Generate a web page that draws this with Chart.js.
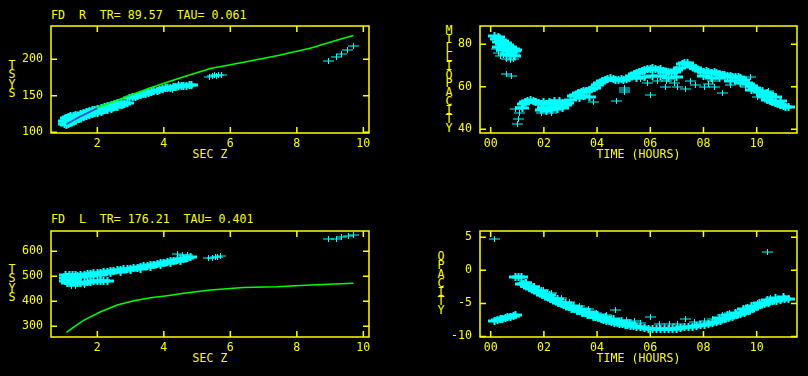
<!DOCTYPE html>
<html>
<head>
<meta charset="utf-8">
<script src="https://cdn.jsdelivr.net/npm/chart.js@4.4.1/dist/chart.umd.min.js"></script>
<style>
  body { margin: 0; background: #000; }
  #wrap { position: relative; width: 808px; height: 376px; background: #000; overflow: hidden; }
  canvas { position: absolute; }
  .lbl { position: absolute; color: #ffff00; font: 11.6px "DejaVu Sans Mono", monospace; line-height: 14px; white-space: pre; }
  .vlab { position: absolute; color: #ffff00; font: 11.6px "DejaVu Sans Mono", monospace; width: 8px; text-align: center; word-break: break-all; }
</style>
</head>
<body>
<div id="wrap">
  <div class="lbl" style="left:51px;top:8px">FD  R  TR= 89.57  TAU= 0.061</div>
  <div class="lbl" style="left:51px;top:212px">FD  L  TR= 176.21  TAU= 0.401</div>
  <div class="vlab" style="left:8px;top:61px;line-height:9.3px">TSYS</div>
  <div class="vlab" style="left:445px;top:26px;line-height:8.9px">MILLIOPACITY</div>
  <div class="vlab" style="left:8px;top:265px;line-height:9.4px">TSYS</div>
  <div class="vlab" style="left:437px;top:252px;line-height:9px">OPACITY</div>
  <canvas id="c1" width="400" height="188" style="left:0;top:0"></canvas>
  <canvas id="c2" width="408" height="188" style="left:400px;top:0"></canvas>
  <canvas id="c3" width="400" height="188" style="left:0;top:188px"></canvas>
  <canvas id="c4" width="408" height="188" style="left:400px;top:188px"></canvas>
</div>
<script>
// ---- data ----
// FD R : TSYS vs SEC Z
const rDenseX = [1.02,1.02,1.08,1.08,1.08,1.14,1.14,1.14,1.20,1.20,1.20,1.27,1.27,1.27,1.34,1.34,1.34,1.42,1.42,1.50,1.50,1.58,1.58,1.66,1.66,1.75,1.75,1.84,1.84,1.93,1.93,2.02,2.02,2.12,2.12,2.22,2.22,2.32,2.32,2.42,2.42,2.52,2.52,2.62,2.62,2.72,2.72,2.82,2.90,
  2.98,3.06,3.14,3.22,3.30,3.38,3.46,3.54,3.62,3.70,
  3.80,3.88,3.96,4.04,4.12,4.20,4.28,4.36,4.44,4.52,4.60,4.68,4.76,4.84];
const rDenseY = [111,116,110,115,120,111,116,121,113,118,122,115,119,123,116,121,124,118,123,120,125,121,126,122,128,124,129,125,130,126,131,127,132,128,133,130,134,131,136,132,137,134,139,135,140,137,141,139,140,
  147,148,149,150,151,152,153,154,155,156,
  157,158,159,160,161,161,162,162,163,163,164,164,165,165];
const rSparseX = [4.25,4.45,5.38,5.45,5.52,5.58,5.65,5.72,8.95,9.19,9.34,9.52,9.69];
const rSparseY = [158.5,166,176,177.5,178,177,178.5,178,197.5,202.5,207,212.5,218];
const rFitX = [1.07,1.3,1.6,2.0,2.6,3.1,3.6,4.1,4.6,5.4,6.4,7.4,8.4,9.3,9.7];
const rFitY = [111,117,124,133.6,144,152.5,161,168.5,176,187.5,196,205,215,227.5,232.5];
const rLinX = [1.07,1.5,2.0];
const rLinY = [111,122,133];

// milliopacity vs time
const mDenseX = [0.15,0.20,0.28,0.30,0.35,0.40,0.45,0.50,0.55,0.60,0.65,0.70,0.75,0.80,0.85,0.90,0.95,0.30,0.45,0.60,0.75,0.90,
  1.20,1.25,1.30,1.40,1.50,1.60,1.70,1.80,1.90,1.90,2.00,2.00,2.10,2.10,2.20,2.20,2.30,2.30,2.40,2.40,2.50,2.50,2.60,2.60,2.70,2.70,2.80,2.90,
  3.00,3.10,3.20,3.30,3.35,3.40,3.50,3.50,3.60,3.70,3.70,3.80,3.90,4.00,4.10,4.20,4.30,4.40,4.50,4.60,4.70,4.80,4.90,5.00,5.10,5.20,5.30,
  5.40,5.50,5.60,5.70,5.80,5.90,6.00,6.10,6.20,6.30,6.40,6.50,6.60,6.70,6.80,6.90,7.00,7.10,7.20,7.30,7.40,7.50,7.60,7.70,7.80,7.90,
  8.00,8.10,8.20,8.30,8.40,8.50,8.60,8.70,8.80,8.90,9.00,9.10,9.20,9.30,9.40,9.50,9.60,9.70,9.80,9.90,
  10.00,10.10,10.20,10.30,10.40,10.50,10.60,10.70,10.80,10.90,11.00,11.10,11.20,
  5.50,5.80,6.10,6.40,6.70,7.00,8.00,8.30,8.60,9.00,9.40,9.80,10.20,10.40,10.50,10.70,10.90];
const mDenseY = [84,82.5,83.5,81,82,80,81.5,79,80.5,78,79.5,77,78.5,76.5,78,77,77.5,78.5,77.5,75.5,75,74.5,
  50,52,53,53.5,54,53.5,53,52.5,52,49,50,53,48.5,52,50,53,49,52.5,50.5,53.5,49.5,52,51,53.5,50,52.5,51.5,52.5,
  54,55.5,56,57,54.5,57.5,58,55.5,58,58.5,55,59,59.5,61,62,62.5,63,63.5,64,63.5,63,63,63.5,63,63.5,64,65,
  66,66.5,67,67.5,68,68.5,68.5,69,68.5,68,68.5,67.5,67,67,66.5,67,68,69,70.5,71,71,70,69.5,69,68,67.5,
  67,67.5,67,66.5,67,66.5,66,65.5,65.5,65,65,64.5,64.5,64.5,64,63,62,61.5,60.5,59.5,
  58.5,57.5,56,55,54,53.5,53,52.5,52,51.5,51,50.5,50.5,
  64,64.5,65,65,64,64.5,65,64,64,62.5,62,58.5,58,57,56,55,53.5];
const mSparseX = [0.20,0.30,0.35,0.50,0.60,0.75,0.85,0.90,0.60,0.80,1.00,1.05,1.10,0.95,1.15,1.90,2.30,3.85,4.72,5.04,5.04,5.04,
  5.65,5.90,6.02,6.27,6.59,7.02,7.34,7.71,8.03,8.34,8.40,8.71,9.02,9.59,9.77,10.02,10.46,6.60,6.90,7.50,8.20];
const mSparseY = [78,76,74.5,75,73,72.5,73,75.5,66,65,42.5,45,47.5,49.5,50.5,47.5,47.5,53,53.5,58.5,59.5,57.5,
  63.5,62,56,62.7,60.1,60.1,58.9,60.8,59.7,62.8,59.7,57,60.8,59.7,64.4,55,58.1,62.5,62,62.5,61.5];

// FD L : TSYS vs SEC Z
const lDenseX = [1.05,1.05,1.05,1.10,1.10,1.10,1.15,1.15,1.15,1.20,1.20,1.20,1.25,1.25,1.25,1.30,1.30,1.35,1.35,1.40,
  1.50,1.60,1.70,1.80,1.90,2.00,2.10,2.20,2.30,2.40,2.50,2.60,2.70,2.80,2.90,3.00,3.10,3.20,3.30,3.40,3.50,3.60,3.70,3.80,3.90,4.00,4.10,4.20,4.30,4.40,4.50,4.60,4.70,4.80,
  1.30,1.40,1.50,1.60,1.70,1.80,1.90,2.00,2.10,2.20,2.30,
  1.50,1.80,2.10,2.40,2.70,3.00,3.30,3.60,3.90,4.20,4.50];
const lDenseY = [505,493,481,499,487,475,505,493,481,499,487,473,505,493,479,499,487,504,493,502,
  505,507,509,510,512,513,515,517,519,521,523,525,527,528,529,531,532,534,537,540,543,545,547,550,553,555,557,560,563,566,568,570,574,578,
  476,475,474,475,476,478,480,481,482,482,481,
  498,502,506,513,518,524,530,538,546,554,562];
const lSparseX = [1.21,1.35,1.60,4.40,4.55,4.70,5.35,5.45,5.55,5.62,5.70,8.95,9.20,9.34,9.54,9.69];
const lSparseY = [461,463,465,588,585,586,574,574,576,578,581,648,649,658,663,665];
const lFitX = [1.07,1.3,1.6,2.1,2.6,3.1,3.6,4.1,4.6,5.4,6.4,7.4,8.4,9.7];
const lFitY = [276,298,325,358,385,402,414,422,432,445,455,458.5,465,472];

// opacity vs time
const oDenseX = [0.15,0.25,0.35,0.45,0.55,0.65,0.75,0.85,0.95,0.95,1.05,1.15,
  1.15,1.25,1.35,1.45,1.55,1.65,1.75,1.85,1.95,2.05,2.15,2.25,2.35,2.45,2.55,2.65,2.75,2.85,2.95,3.05,3.15,3.25,3.35,3.45,3.55,3.65,3.75,3.85,3.95,
  4.05,4.15,4.25,4.35,4.45,4.55,4.65,4.75,4.85,4.95,5.05,5.15,5.25,5.35,5.50,5.65,5.80,5.95,6.10,6.25,6.40,6.55,6.70,6.85,7.00,7.15,7.30,7.45,7.60,7.75,7.90,
  8.05,8.20,8.35,8.50,8.65,8.80,8.95,9.10,9.25,9.40,9.55,9.70,9.85,10.00,10.15,10.30,10.45,10.60,10.75,10.90,11.05,11.20,
  1.3,1.6,1.9,2.2,2.5,2.8,3.1,3.4,3.7,4.0,4.3,4.6,4.9,5.2,8.6,8.9,9.2,9.5,9.8,10.1,10.4,10.7,11.0];
const oDenseY = [-7.6,-7.5,-7.4,-7.3,-7.2,-7.1,-7.0,-6.9,-6.8,-1.0,-1.0,-1.05,
  -2.0,-2.1,-2.4,-2.6,-2.8,-3.0,-3.2,-3.4,-3.7,-3.9,-4.1,-4.3,-4.5,-4.7,-4.9,-5.1,-5.3,-5.4,-5.6,-5.8,-5.9,-6.1,-6.2,-6.4,-6.5,-6.7,-6.8,-7.0,-7.1,
  -7.2,-7.3,-7.5,-7.6,-7.7,-7.8,-7.9,-8.0,-8.1,-8.1,-8.2,-8.3,-8.4,-8.4,-8.5,-8.6,-8.7,-8.8,-8.8,-8.9,-8.9,-8.9,-8.9,-8.8,-8.8,-8.7,-8.6,-8.6,-8.5,-8.4,-8.3,
  -8.2,-8.1,-7.9,-7.8,-7.6,-7.4,-7.2,-7.0,-6.8,-6.6,-6.4,-6.1,-5.9,-5.6,-5.3,-5.1,-4.9,-4.7,-4.6,-4.5,-4.4,-4.3,
  -1.9,-2.5,-3.1,-3.7,-4.3,-4.9,-5.4,-5.9,-6.3,-6.7,-7.1,-7.4,-7.7,-7.9,-7.2,-6.8,-6.4,-5.9,-5.4,-4.9,-4.5,-4.2,-4.0];
const oSparseX = [0.16,10.42,1.35,1.66,1.97,2.30,2.66,2.97,3.35,3.66,3.97,4.35,4.70,5.10,5.40,5.65,6.02,6.34,6.71,7.02,7.34,7.65,8.03,8.34,8.71,8.96,9.34,9.65,10.02,10.52];
const oSparseY = [4.74,2.82,-1.7,-2.4,-3.0,-3.5,-4.2,-4.85,-5.4,-5.9,-6.4,-6.8,-6.0,-7.5,-7.7,-7.9,-7.12,-8.1,-8.15,-8.1,-7.4,-7.8,-7.6,-7.3,-6.77,-6.5,-6.1,-5.6,-5.0,-4.25];

const secTicks = [2, 4, 6, 8, 10];
const hourTicks = [0, 2, 4, 6, 8, 10];
const rTicks = [100, 150, 200];
const mTicks = [40, 60, 80];
const lTicks = [300, 400, 500, 600];
const oTicks = [-10, -5, 0, 5];

// ---- drawing ----
const YEL = '#ffff00';
const CYAN = '#00ffff';
const FONT = { family: 'DejaVu Sans Mono', size: 11.6 };

// error-bar cross drawn once, used as point style
function makeCross(w, h, hw, vw) {
  const c = document.createElement('canvas');
  c.width = w; c.height = h;
  const g = c.getContext('2d');
  g.fillStyle = CYAN;
  g.fillRect(0, (h - hw) / 2, w, hw);
  g.fillRect((w - vw) / 2, 0, vw, h);
  return c;
}
const thinCross = makeCross(11, 6, 1, 1);
const fatCross = makeCross(13, 8, 3, 2);

function pts(xs, ys) {
  return xs.map((x, i) => ({ x: x, y: ys[i] }));
}

// keep the crosses crisp like the original plotter output
const crispPlugin = {
  id: 'crisp',
  beforeDatasetsDraw(chart) { chart.ctx.imageSmoothingEnabled = false; }
};

const framePlugin = {
  id: 'frame',
  afterDatasetsDraw(chart) {
    const { ctx, chartArea: a, scales } = chart;
    ctx.save();
    ctx.strokeStyle = YEL;
    ctx.lineWidth = 1.5;
    ctx.strokeRect(a.left, a.top, a.right - a.left, a.bottom - a.top);
    ctx.beginPath();
    scales.x.ticks.forEach(t => {
      const p = scales.x.getPixelForValue(t.value);
      ctx.moveTo(p, a.top); ctx.lineTo(p, a.top + 6);
      ctx.moveTo(p, a.bottom); ctx.lineTo(p, a.bottom - 6);
    });
    scales.y.ticks.forEach(t => {
      const p = scales.y.getPixelForValue(t.value);
      ctx.moveTo(a.left, p); ctx.lineTo(a.left + 6, p);
      ctx.moveTo(a.right, p); ctx.lineTo(a.right - 6, p);
    });
    ctx.stroke();
    ctx.restore();
  }
};

function makeChart(id, o) {
  const datasets = [];
  (o.lines || []).forEach(l => datasets.push({
    data: l.data, showLine: true, pointRadius: 0, borderColor: l.color, borderWidth: 1.5, tension: 0
  }));
  datasets.push({ data: o.sparse, pointStyle: thinCross, pointRadius: 3, showLine: false });
  datasets.push({ data: o.dense, pointStyle: fatCross, pointRadius: 3, showLine: false });

  return new Chart(document.getElementById(id), {
    type: 'scatter',
    data: { datasets: datasets },
    options: {
      responsive: false,
      devicePixelRatio: 1,
      animation: false,
      layout: { padding: o.pad },
      plugins: { legend: { display: false }, tooltip: { enabled: false } },
      scales: {
        x: {
          type: 'linear', min: o.xMin, max: o.xMax,
          afterBuildTicks: s => { s.ticks = o.xTicks.map(v => ({ value: v })); },
          afterFit: s => { s.height = 29; },
          grid: { display: false, drawTicks: false },
          border: { display: false },
          ticks: { color: YEL, font: FONT, padding: 4, maxRotation: 0, autoSkip: false, callback: o.xFmt },
          title: { display: true, text: o.xTitle, color: YEL, font: FONT, padding: 0 }
        },
        y: {
          type: 'linear', min: o.yMin, max: o.yMax,
          afterBuildTicks: s => { s.ticks = o.yTicks.map(v => ({ value: v })); },
          afterFit: s => { s.width = o.yW; },
          grid: { display: false, drawTicks: false },
          border: { display: false },
          ticks: { color: YEL, font: FONT, padding: 8, autoSkip: false }
        }
      }
    },
    plugins: [crispPlugin, framePlugin]
  });
}

const plainFmt = v => String(v);
const hourFmt = v => String(v).padStart(2, '0');

makeChart('c1', {
  pad: { top: 26, left: 0, right: 31, bottom: 26 }, yW: 51,
  xMin: 0.607, xMax: 10.17, yMin: 99.04, yMax: 245.6,
  xTicks: secTicks, yTicks: rTicks, xFmt: plainFmt, xTitle: 'SEC Z',
  lines: [{ data: pts(rLinX, rLinY), color: '#3a3aff' }, { data: pts(rFitX, rFitY), color: '#00ff00' }],
  sparse: pts(rSparseX, rSparseY), dense: pts(rDenseX, rDenseY)
});

makeChart('c2', {
  pad: { top: 26, left: 0, right: 11, bottom: 26 }, yW: 80,
  xMin: -0.402, xMax: 11.515, yMin: 38.26, yMax: 88.61,
  xTicks: hourTicks, yTicks: mTicks, xFmt: hourFmt, xTitle: 'TIME (HOURS)',
  sparse: pts(mSparseX, mSparseY), dense: pts(mDenseX, mDenseY)
});

makeChart('c3', {
  pad: { top: 43, left: 0, right: 31, bottom: 10 }, yW: 51,
  xMin: 0.607, xMax: 10.17, yMin: 257.2, yMax: 681.2,
  xTicks: secTicks, yTicks: lTicks, xFmt: plainFmt, xTitle: 'SEC Z',
  lines: [{ data: pts(lFitX, lFitY), color: '#00ff00' }],
  sparse: pts(lSparseX, lSparseY), dense: pts(lDenseX, lDenseY)
});

makeChart('c4', {
  pad: { top: 43, left: 0, right: 11, bottom: 10 }, yW: 80,
  xMin: -0.402, xMax: 11.515, yMin: -10.08, yMax: 5.95,
  xTicks: hourTicks, yTicks: oTicks, xFmt: hourFmt, xTitle: 'TIME (HOURS)',
  sparse: pts(oSparseX, oSparseY), dense: pts(oDenseX, oDenseY)
});
</script>
</body>
</html>
